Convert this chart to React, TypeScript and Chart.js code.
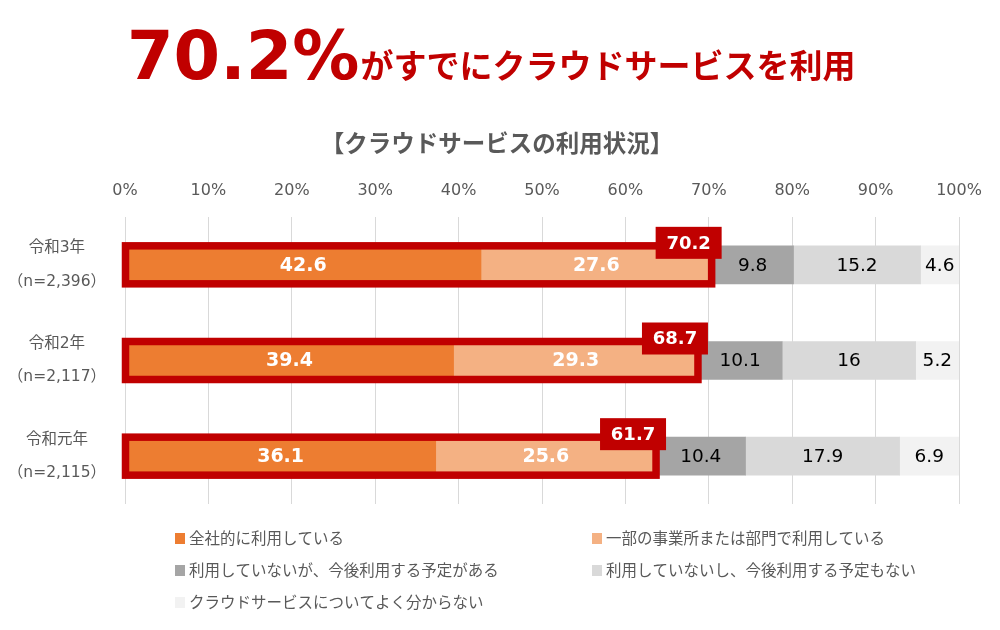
import React, { useEffect, useRef } from "react";
import { Chart, registerables } from "chart.js";

Chart.register(...registerables);

// ---- data ----
const categories: string[][] = [
  ["令和3年", "（n=2,396）"],
  ["令和2年", "（n=2,117）"],
  ["令和元年", "（n=2,115）"],
];
const seriesNames = [
  "全社的に利用している",
  "一部の事業所または部門で利用している",
  "利用していないが、今後利用する予定がある",
  "利用していないし、今後利用する予定もない",
  "クラウドサービスについてよく分からない",
];
const companyWide = [42.6, 39.4, 36.1];
const partial = [27.6, 29.3, 25.6];
const planned = [9.8, 10.1, 10.4];
const noPlan = [15.2, 16, 17.9];
const unknown = [4.6, 5.2, 6.9];
const usageTotal = [70.2, 68.7, 61.7];
const xTicks = [0, 10, 20, 30, 40, 50, 60, 70, 80, 90, 100];

const seriesValues = [companyWide, partial, planned, noPlan, unknown];
const seriesColors = ["#ED7D31", "#F4B183", "#A5A5A5", "#D9D9D9", "#F2F2F2"];
const RED = "#C00000";
const GREY_TEXT = "#595959";
const LATIN = '"DejaVu Sans", "Noto Sans CJK JP", sans-serif';
const JP = '"Noto Sans CJK JP", "DejaVu Sans", sans-serif';

const rowTotals = categories.map((_, i) =>
  seriesValues.reduce((s, arr) => s + arr[i], 0)
);

const overlayPlugin = {
  id: "overlay",
  beforeDraw(chart: any) {
    const ctx = chart.ctx;
    ctx.save();
    ctx.fillStyle = "#ffffff";
    ctx.fillRect(0, 0, chart.width, chart.height);
    // headline
    ctx.fillStyle = RED;
    ctx.textBaseline = "alphabetic";
    ctx.textAlign = "left";
    ctx.font = `bold 67px ${LATIN}`;
    const big = `${usageTotal[0]}%`;
    ctx.fillText(big, 127, 79);
    const w = ctx.measureText(big).width;
    ctx.font = `bold 33px ${JP}`;
    ctx.fillText("がすでにクラウドサービスを利用", 127 + w + 1, 78);
    // chart title
    ctx.fillStyle = GREY_TEXT;
    ctx.textAlign = "center";
    ctx.textBaseline = "middle";
    ctx.font = `bold 23.5px ${JP}`;
    ctx.fillText("【クラウドサービスの利用状況】", 497, 143);
    // legend
    const cols = [175, 592];
    const rows = [538, 570, 602];
    ctx.font = `15.5px ${JP}`;
    ctx.textAlign = "left";
    seriesNames.forEach((name, k) => {
      const x = cols[k % 2];
      const y = rows[Math.floor(k / 2)];
      ctx.fillStyle = seriesColors[k];
      ctx.fillRect(x, y - 5, 10, 11);
      ctx.fillStyle = GREY_TEXT;
      ctx.fillText(name, x + 14, y);
    });
    ctx.restore();
  },
  afterDatasetsDraw(chart: any) {
    const ctx = chart.ctx;
    ctx.save();
    ctx.textAlign = "center";
    ctx.textBaseline = "middle";
    // segment labels
    chart.data.datasets.forEach((ds: any, d: number) => {
      const meta = chart.getDatasetMeta(d);
      meta.data.forEach((bar: any, i: number) => {
        const p = bar.getProps(["x", "y", "base"], true);
        const cx = (p.x + p.base) / 2;
        if (d < 2) {
          ctx.fillStyle = "#ffffff";
          ctx.font = `bold 19px ${LATIN}`;
        } else {
          ctx.fillStyle = "#000000";
          ctx.font = `18.5px ${LATIN}`;
        }
        ctx.fillText(String(seriesValues[d][i]), cx, p.y + 1);
      });
    });
    // outlines + callouts
    const m0 = chart.getDatasetMeta(0);
    const m1 = chart.getDatasetMeta(1);
    m0.data.forEach((bar0: any, i: number) => {
      const p0 = bar0.getProps(["x", "y", "base", "height"], true);
      const p1 = m1.data[i].getProps(["x", "y", "base", "height"], true);
      const left = p0.base;
      const right = p1.x;
      const top = p0.y - p0.height / 2;
      const bottom = p0.y + p0.height / 2;
      ctx.strokeStyle = RED;
      ctx.lineWidth = 7.5;
      ctx.strokeRect(left, top, right - left, bottom - top);
      const bw = 66;
      const bh = 32;
      const bcx = right - 23;
      const btop = top - 19;
      ctx.fillStyle = RED;
      ctx.fillRect(bcx - bw / 2, btop, bw, bh);
      ctx.fillStyle = "#ffffff";
      ctx.font = `bold 18px ${LATIN}`;
      ctx.fillText(String(usageTotal[i]), bcx, btop + bh / 2 + 1);
    });
    ctx.restore();
  },
};

export default function App() {
  const ref = useRef<HTMLCanvasElement | null>(null);
  useEffect(() => {
    if (!ref.current) return;
    const chart = new Chart(ref.current, {
      type: "bar",
      data: {
        labels: categories,
        datasets: seriesValues.map((vals, k) => ({
          label: seriesNames[k],
          data: vals.map((v, i) => (v / rowTotals[i]) * 100),
          backgroundColor: seriesColors[k],
          borderWidth: 0,
          barThickness: 38,
        })),
      },
      options: {
        indexAxis: "y",
        responsive: false,
        animation: false,
        layout: { padding: { left: 0, right: 41, top: 0, bottom: 126 } },
        plugins: {
          legend: { display: false },
          tooltip: { enabled: false },
          title: { display: false },
        },
        scales: {
          x: {
            position: "top",
            stacked: true,
            min: 0,
            max: 100,
            afterBuildTicks: (s: any) => {
              s.ticks = xTicks.map((v) => ({ value: v }));
            },
            afterFit: (s: any) => {
              s.height = 217;
            },
            grid: { color: "#D9D9D9", drawTicks: false, lineWidth: 1 },
            border: { display: false },
            ticks: {
              padding: 17,
              color: GREY_TEXT,
              font: { family: LATIN, size: 16 },
              callback: (v: any) => `${v}%`,
            },
          },
          y: {
            stacked: true,
            afterFit: (s: any) => {
              s.width = 125;
            },
            grid: { display: false },
            border: { display: false },
            ticks: {
              crossAlign: "center",
              padding: 11,
              color: GREY_TEXT,
              font: { family: LATIN, size: 15.5, lineHeight: 2.15 },
            },
          },
        },
      } as any,
      plugins: [overlayPlugin],
    });
    return () => chart.destroy();
  }, []);
  return (
    <div style={{ position: "fixed", left: 0, top: 0, width: 1000, height: 630, background: "#fff" }}>
      <canvas ref={ref} width={1000} height={630} />
    </div>
  );
}
